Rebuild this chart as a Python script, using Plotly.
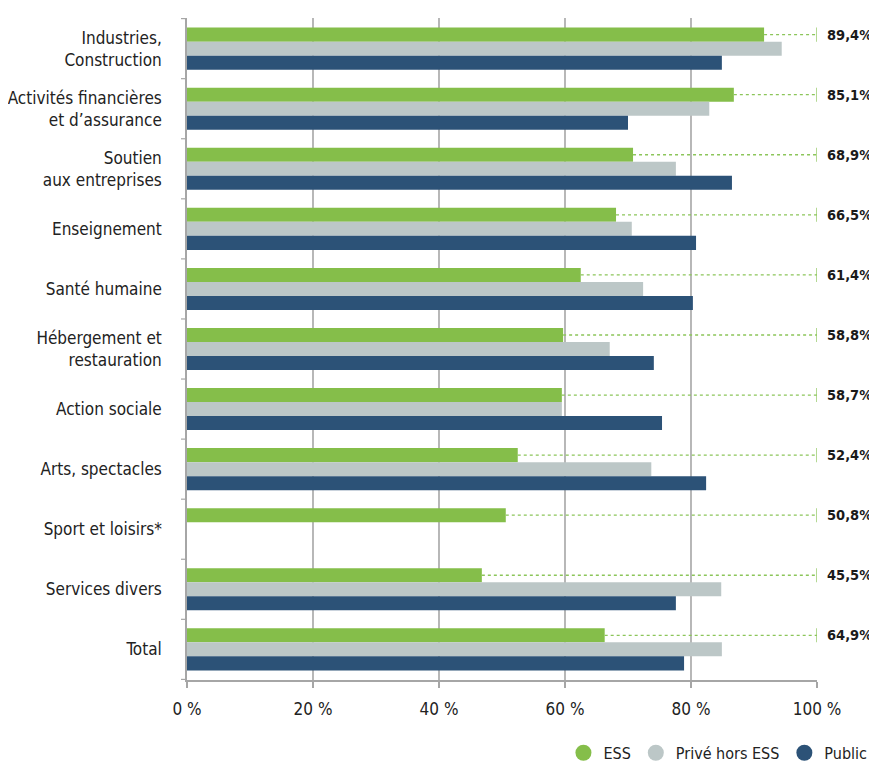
import plotly.graph_objects as go

categories = [
    "Industries,<br>Construction",
    "Activités financières<br>et d’assurance",
    "Soutien<br>aux entreprises",
    "Enseignement",
    "Santé humaine",
    "Hébergement et<br>restauration",
    "Action sociale",
    "Arts, spectacles",
    "Sport et loisirs*",
    "Services divers",
    "Total",
]
ess = [91.6, 86.8, 70.8, 68.1, 62.5, 59.7, 59.5, 52.5, 50.6, 46.8, 66.3]
prive = [94.4, 82.9, 77.6, 70.6, 72.4, 67.1, 59.5, 73.7, None, 84.8, 84.9]
public = [84.9, 70.0, 86.5, 80.8, 80.3, 74.1, 75.4, 82.4, None, 77.6, 78.9]
ess_labels = ["89,4%", "85,1%", "68,9%", "66,5%", "61,4%", "58,8%", "58,7%",
              "52,4%", "50,8%", "45,5%", "64,9%"]
tick_vals = [0, 20, 40, 60, 80, 100]
tick_text = ["0 %", "20 %", "40 %", "60 %", "80 %", "100 %"]
series_names = ["ESS", "Privé hors ESS", "Public"]
colors = ["#85BE4A", "#BCC7C7", "#2C5277"]

FONT = "Liberation Sans Narrow, DejaVu Sans Condensed, Roboto Condensed, Liberation Sans, sans-serif"
GRID = "#A6A6A6"

fig = go.Figure()
for name, vals, col in zip(series_names, [ess, prive, public], colors):
    fig.add_trace(go.Bar(
        y=categories, x=vals, name=name, orientation="h",
        marker=dict(color=col, line=dict(width=0)),
        showlegend=False, hoverinfo="x+name",
    ))
# legend markers (circles)
for name, col in zip(series_names, colors):
    fig.add_trace(go.Scatter(
        x=[None], y=[None], mode="markers", name=name,
        marker=dict(symbol="circle", size=18, color=col),
        showlegend=True,
    ))

n = len(categories)
bar_w = 0.7 / 3
shapes = []
# vertical gridlines (not at 0 and 100)
for v in tick_vals[1:-1]:
    shapes.append(dict(type="line", xref="x", yref="paper", x0=v, x1=v, y0=0, y1=1,
                       line=dict(color=GRID, width=1.6), layer="below"))
# left category boundary ticks
for i in range(n + 1):
    shapes.append(dict(type="line", xref="paper", yref="y", x0=-6 / 630, x1=0,
                       y0=i - 0.5, y1=i - 0.5, line=dict(color=GRID, width=1.2)))
annotations = []
for i, (v, lab) in enumerate(zip(ess, ess_labels)):
    yc = i - bar_w
    shapes.append(dict(type="line", xref="x", yref="y", x0=v, x1=tick_vals[-1], y0=yc, y1=yc,
                       line=dict(color="#8CC55A", width=1.3, dash="dot")))
    shapes.append(dict(type="line", xref="x", yref="y", x0=tick_vals[-1], x1=tick_vals[-1],
                       y0=yc - bar_w / 2, y1=yc + bar_w / 2,
                       line=dict(color="#8CC55A", width=1.3)))
    annotations.append(dict(x=tick_vals[-1], y=yc, xref="x", yref="y", text="<b>%s</b>" % lab,
                            showarrow=False, xanchor="left", yanchor="middle", xshift=8,
                            font=dict(family=FONT, size=14.5, color="#1a1a1a")))

# page body adds an 8px offset; figure is sized to fill the 877x767 window
fig.update_layout(
    width=869, height=759,
    margin=dict(l=179, r=60, t=10, b=87, autoexpand=False),
    paper_bgcolor="white", plot_bgcolor="white",
    barmode="group", bargap=0.3, bargroupgap=0,
    font=dict(family=FONT, size=17, color="#222222"),
    shapes=shapes, annotations=annotations,
    legend=dict(orientation="h", x=1.088, xanchor="right", y=-0.11, yanchor="middle",
                font=dict(family=FONT, size=16, color="#222222"),
                itemsizing="trace", tracegroupgap=0, itemwidth=30,
                bgcolor="rgba(0,0,0,0)"),
    xaxis=dict(range=[0, 100], tickvals=tick_vals, ticktext=tick_text, showgrid=False,
               zeroline=False, showline=True, linecolor=GRID, linewidth=1.6,
               ticks="outside", ticklen=6, tickcolor=GRID, tickwidth=1.6,
               ticklabelstandoff=7, tickfont=dict(family=FONT, size=17, color="#222222"),
               fixedrange=True, automargin=False),
    yaxis=dict(autorange="reversed", type="category", showgrid=False, zeroline=False,
               showline=True, linecolor=GRID, linewidth=1.6, ticks="",
               ticklabelstandoff=20, tickfont=dict(family=FONT, size=17, color="#222222"),
               fixedrange=True, automargin=False),
)

fig.write_html("out.html")
